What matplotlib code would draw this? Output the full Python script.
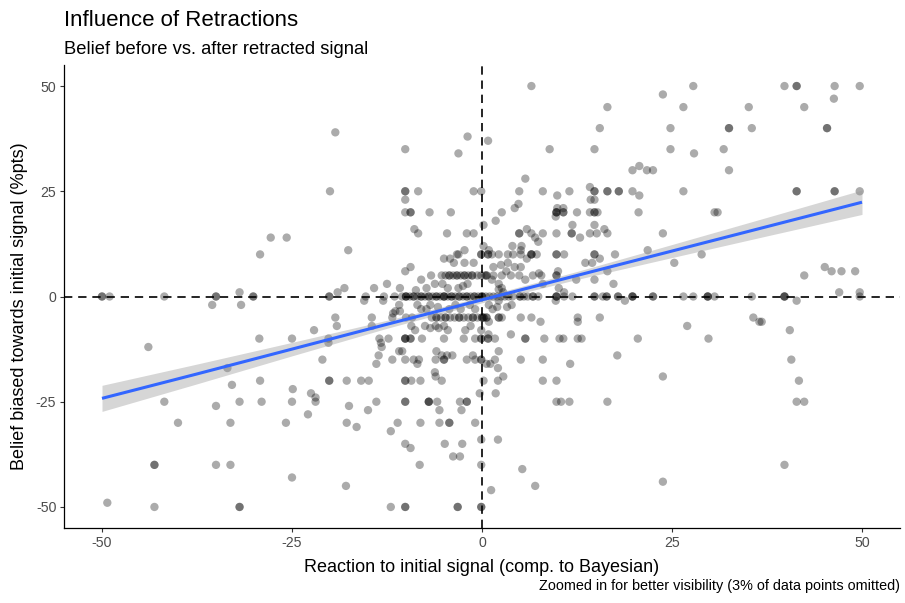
import numpy as np
import matplotlib
matplotlib.use("Agg")
import matplotlib.pyplot as plt

plt.rcParams["font.family"] = ["Liberation Sans", "DejaVu Sans"]
plt.rcParams["axes.unicode_minus"] = False

# reaction to initial signal (x) vs belief bias (y), one tuple per participant
left_pts = [
    (-50, 0), (-50, 0), (-49, 0), (-41.8, 0), (-35, 0), (-35, 0), (-30.1, 0), (-30.1, 0),
    (-20.1, 0), (-20.1, 0), (-19.3, 39), (-20, 25), (-27.8, 14), (-25.7, 14), (-29.2, 10),
    (-31.9, 1), (-19, 1), (-17.6, 11), (-18.1, 2), (-35.5, -2), (-31.7, -2), (-19.3, -5),
    (-19.1, -7), (-43.9, -12), (-29.3, -10), (-25, -10), (-22.1, -8), (-20.2, -10),
    (-20.2, -11), (-21, -15), (-33.5, -17), (-32.9, -21), (-29.2, -20), (-24.9, -22),
    (-20.1, -20), (-20.1, -20), (-41.8, -25), (-35, -26), (-31.9, -25), (-29, -25),
    (-25, -25), (-22.5, -23), (-21.9, -24), (-21.9, -25), (-22.9, -28), (-40, -30),
    (-33.1, -30), (-25.8, -30), (-43.1, -40), (-43.1, -40), (-35, -40), (-33.1, -40),
    (-25, -43), (-49.3, -49), (-43.1, -50), (-31.9, -50), (-31.9, -50), (-17.8, -20),
    (-15.9, -20), (-17.5, -26), (-17.8, -30), (-16.5, -31), (-17.9, -45), (-15.5, -1),
    (-15.3, 0),
]

core_left_pts = [
    # upper part
    (-10.1, 35), (-1.9, 38), (-3.1, 34), (0.8, 37), (-10.1, 25), (-10.1, 25), (-8.4, 25),
    (-1.1, 25), (-0.1, 25), (-10.1, 23), (-10.1, 20), (-9.4, 20), (-9.4, 20), (-6.9, 20),
    (-4.1, 20), (-8.9, 16), (-8.4, 15), (-4.6, 15), (-2, 15), (-1.1, 15), (0.2, 17),
    (-10.1, 6), (-9.4, 7), (-8, 4), (-6.7, 5), (-5, 9), (-4.2, 9), (-3.3, 10), (-3.1, 10),
    (-2.3, 11), (-3.7, 8), (-2.3, 8), (-1.1, 8), (-0.1, 10), (-0.1, 10), (-10.8, 2),
    (-14.2, 2), (-12.5, 3),
    # around +5
    (-5.3, 5), (-4.8, 5), (-4.3, 5), (-4.3, 5), (-3.8, 5), (-3.3, 5), (-3.3, 5), (-2.8, 5),
    (-2.3, 5), (-2.3, 5), (-1.8, 5), (-1.3, 5), (-1.3, 5), (-0.6, 5), (-0.1, 5), (0.4, 5),
    (-6.2, 3), (-5.2, 3), (-4.5, 2), (-3.1, 2), (-2.5, 2.5), (-1.9, 3), (-7.3, 2), (-8.7, 1.5),
    # zero row
    (-12.9, 0), (-11.5, 0), (-10.5, 0), (-10, 0), (-10, 0), (-10, 0), (-9.5, 0), (-9, 0),
    (-9, 0), (-8.5, 0), (-8, 0), (-8, 0), (-7.5, 0), (-7, 0), (-7, 0), (-6.5, 0), (-6, 0),
    (-6, 0), (-5.5, 0), (-5, 0), (-5, 0), (-5, 0), (-4.5, 0), (-4, 0), (-4, 0), (-3.5, 0),
    (-3, 0), (-3, 0), (-2.5, 0), (-2, 0), (-2, 0), (-1.5, 0), (-1, 0), (-1, 0), (-0.5, 0),
    (0, 0), (0, 0), (0, 0),
    # just below zero
    (-11.4, -3.5), (-10.9, -2), (-10.8, -3.5), (-11.7, -4), (-8.5, -2), (-8, -3), (-7.3, -3),
    (-6.8, -2), (-5.8, -2.5), (-4.3, -3), (-3.5, -2), (-2.8, -3), (-1.6, -2), (-0.9, -3),
    (-13, -1),
    # around -5
    (-14.5, -5), (-11.8, -5), (-10, -5), (-9.2, -5), (-6.6, -5), (-6, -5), (-6, -5), (-5.4, -5),
    (-4.8, -5), (-4.8, -5), (-4.2, -5), (-3.6, -5), (-3, -5), (-3, -5), (-2.4, -5), (-1.8, -5),
    (-1.2, -5), (-1.2, -5), (-0.6, -5), (0, -5), (0, -5), (0.6, -5),
    (-14.5, -7), (-7.5, -7), (-6.8, -7.5), (-6.1, -7), (-5.7, -7.5), (-5, -7), (-4.5, -8),
    (-2.2, -8), (-1.5, -7), (-0.1, -8), (-9.3, -7), (-8.8, -8),
    # around -10 to -16
    (-13.5, -10), (-12.3, -10), (-13.3, -11), (-13.2, -12), (-10.1, -10), (-10.1, -10),
    (-10.1, -10), (-9.4, -10), (-9.4, -10), (-7.9, -10), (-5, -10), (-2.4, -10), (-0.9, -10),
    (-0.1, -10), (-0.1, -10), (-10.9, -13), (-10.5, -13), (-6, -13), (-13.6, -14), (-13.9, -16),
    (-11.8, -15), (-10.1, -15), (-9, -15), (-8.5, -16), (-8.3, -15), (-6.1, -15), (-5, -15),
    (-5, -15), (-5.3, -14), (-4.6, -14), (-3.9, -14), (-2, -15), (-1.2, -14), (-0.9, -15),
    (-0.1, -15), (-0.1, -15), (0.6, -16),
    # lower part
    (-14.9, -20), (-10.1, -20), (-10.1, -20), (-9.3, -20), (-8.1, -20), (-6.1, -19),
    (-6.2, -18), (-5.3, -20), (-0.3, -23), (-13.9, -25), (-15, -27), (-10.1, -25), (-10.1, -25),
    (-7, -25), (-7, -25), (-7, -25), (-5.9, -25), (-5.6, -27), (-2.9, -25), (-2, -25), (-2, -25),
    (-2.7, -27), (-12, -32), (-11.1, -30), (-8.1, -30), (-5.6, -30), (-4.3, -30), (-4.3, -30),
    (-0.9, -30), (-10.1, -35), (-9.4, -36), (-4.9, -35), (-2.6, -35), (-3.8, -38), (-2.9, -38),
    (-0.1, -34), (-8.2, -40), (-0.1, -40), (-12, -50), (-10.1, -50), (-10.1, -50), (-3.2, -50),
    (-3.2, -50), (-0.1, -50), (-0.1, -50),
]

core_right_pts = [
    # upper part
    (6.5, 50), (16.5, 45), (15.5, 40), (8.9, 35), (14.8, 35), (5.7, 28), (4.9, 25), (8, 25),
    (9.9, 24), (11.5, 25), (14.2, 26), (14.8, 25), (14.8, 25), (16.5, 25), (16.5, 25), (18, 25),
    (18, 25), (19.8, 25), (14.3, 23), (14.8, 23), (9.8, 20), (9.8, 20), (9.8, 20), (10.7, 20),
    (10.7, 20), (9.7, 19), (9.9, 21), (10.7, 21), (12.5, 20), (14.2, 20), (14.8, 20),
    (14.8, 20), (15.2, 20), (4.8, 22), (4.3, 21), (2.6, 20), (1.8, 18),
    # around +15
    (4.9, 15), (4.9, 15), (5.9, 16), (6.5, 15), (7, 14), (7.4, 13), (8, 15), (9.8, 15),
    (11.8, 15), (11.8, 15), (11.9, 17), (12.9, 14), (14.2, 15), (15.1, 15), (14.8, 17),
    (16.1, 16), (16.5, 15), (4, 12), (5.2, 12), (5.1, 11), (0.2, 12), (0.9, 11),
    # around +10
    (0.8, 10), (0.8, 10), (1.3, 10), (2.2, 10), (3.4, 10), (4.1, 10), (5.1, 10), (5.9, 9),
    (6.5, 10), (6.5, 10), (6.5, 10), (7.2, 10), (9.8, 10), (9.8, 10), (10.8, 10), (14.8, 10),
    (14.8, 10), (17.5, 10), (13.6, 8), (14.5, 8), (15.5, 9), (16.5, 6), (17.3, 3),
    # around +5
    (0.6, 5), (0.6, 5), (1.5, 5), (2.6, 5), (3.8, 5), (4.9, 5), (5.7, 4), (6.7, 5), (7.8, 5),
    (9.8, 5), (9.8, 5), (10, 6), (12.4, 4), (14.8, 4), (1.5, 7), (3.4, 8), (4.3, 7), (5.1, 7),
    (1.3, 4), (2.2, 3), (2.6, 2), (8, 3), (10.1, 2), (10.8, 1), (2.2, 1.7), (2.8, 1), (3.2, 6),
    (2.5, 7.5), (7.5, 5.5),
    # zero row
    (0.5, 0), (1, 0), (1.5, 0), (2, 0), (2.5, 0), (3, 0), (3.5, 0), (4, 0), (5, 0), (5, 0),
    (5.5, 0), (6, 0), (6.7, 0), (6.7, 0), (7.4, 0), (9.8, 0), (9.8, 0), (9.8, 0), (10.8, 0),
    (11.9, 0), (14.8, 0), (14.8, 0), (15.9, 0), (16.4, 0), (16.4, 0), (17.9, 0), (17.9, 0),
    (19.8, 0), (19.8, 0), (19.8, 0),
    (9.7, -1), (3.9, -2), (2.2, -1), (18.8, -1), (0.9, -2), (1.4, -3), (2, -2.5), (3.3, -2.5),
    # around -5 and -10
    (0.2, -5), (0.2, -5), (0.6, -5), (2.2, -5), (2.2, -5), (2.6, -5), (5.1, -5), (6.5, -5),
    (7.7, -6), (12.6, -5), (12.6, -6), (15.5, -5), (0.9, -6), (0.85, -9),
    (0.8, -10), (0.8, -10), (1.7, -10), (3.8, -9), (5.7, -10), (5.7, -10), (8.2, -10),
    (10.2, -10), (10.7, -10), (12.6, -10), (13.1, -10), (20.5, -10),
    # lower part
    (2.2, -13), (1.1, -16), (1.7, -15), (2.1, -17), (5.1, -15), (8, -15), (11.6, -16),
    (17.8, -14), (0.2, -20), (2.1, -20), (2.8, -19), (8, -20), (9.8, -20), (1.8, -23),
    (9.8, -25), (10.4, -25), (11.5, -25), (16.5, -25), (2.1, -34), (5.3, -41), (1.2, -46),
    (7, -45),
]

right_pts = [
    (23.8, 48), (27.8, 50), (26.5, 45), (24.8, 40), (24.8, 35), (27.9, 34), (32.5, 40),
    (32.5, 40), (35.5, 40), (35.1, 45), (31.8, 35), (32.5, 30), (39.8, 50), (41.4, 50),
    (41.4, 50), (42.4, 45), (46.4, 50), (46.3, 47), (49.7, 50), (45.4, 40), (45.4, 40),
    (20.7, 31), (21.7, 30), (22.5, 30), (19.8, 30), (20.7, 24), (26.5, 25), (41.4, 25),
    (41.4, 25), (46.4, 25), (46.4, 25), (49.7, 25), (20.6, 20), (30.6, 20), (31, 20),
    (23.8, 15), (21.8, 11), (25.3, 8), (28.9, 10), (42.4, 5), (45.1, 7), (46, 6), (47.3, 6),
    (49.1, 6), (47, 1), (49.7, 1), (22.5, 0), (22.5, 0), (26.5, 0), (27.8, 0), (29.7, 0),
    (29.7, 0), (29.7, 0), (30.6, 0), (35.5, 0), (39.8, 0), (39.8, 0), (39.8, 0), (49.7, 0),
    (41.4, -1), (27, -7), (29.8, -10), (35.7, -5), (36.5, -6), (36.8, -6), (40.5, -8),
    (40.7, -15), (41.7, -20), (41.4, -25), (42.4, -25), (23.8, -19), (23.8, -44), (39.8, -40),
]

# linear fit and its 95% band
fit_x = [-50, -37.5, -25, -12.5, 0, 12.5, 25, 37.5, 50]
fit_y = [-24.2, -18.4, -12.5, -6.6, -0.8, 5.0, 10.8, 16.6, 22.4]
fit_half = [3.1, 2.35, 1.6, 0.95, 0.7, 0.95, 1.55, 2.2, 2.9]

ticks = [-50, -25, 0, 25, 50]

pts = np.array(left_pts + core_left_pts + core_right_pts + right_pts)
fx = np.array(fit_x)
fy = np.array(fit_y)
fh = np.array(fit_half)

W, H = 905, 603
fig = plt.figure(figsize=(W / 100, H / 100), dpi=100)
ax = fig.add_axes([64 / W, 1 - 528 / H, (900 - 64) / W, (528 - 65) / H])

ax.scatter(pts[:, 0], pts[:, 1], s=36, color="black", alpha=0.33,
           edgecolors="none", zorder=2)
ax.axhline(0, color="black", lw=1.2, ls=(0, (5, 3.5)), zorder=3)
ax.axvline(0, color="black", lw=1.2, ls=(0, (5, 3.5)), zorder=3)
ax.fill_between(fx, fy - fh, fy + fh, color="#999999", alpha=0.4,
                lw=0, zorder=4)
ax.plot(fx, fy, color="#3366FF", lw=2.2, zorder=5, solid_capstyle="butt")

ax.set_xlim(-55, 55)
ax.set_ylim(-55, 55)
ax.set_xticks(ticks)
ax.set_yticks(ticks)
ax.set_xticklabels([str(t) for t in ticks])
ax.set_yticklabels([str(t) for t in ticks])
ax.tick_params(length=3.0, width=0.8, color="#333333", labelsize=10.2,
               labelcolor="#4D4D4D", pad=2.5)
for side in ("top", "right"):
    ax.spines[side].set_visible(False)
for side in ("left", "bottom"):
    ax.spines[side].set_linewidth(0.9)

# titles and annotations
fig.text(64 / W, 1 - 26 / H, "Influence of Retractions", fontsize=16,
         ha="left", va="baseline")
fig.text(64 / W, 1 - 54 / H, "Belief before vs. after retracted signal",
         fontsize=13.2, ha="left", va="baseline")
fig.text((64 + 900) / 2 / W, 1 - 572 / H,
         "Reaction to initial signal (comp. to Bayesian)", fontsize=13,
         ha="center", va="baseline")
fig.text(20 / W, 1 - 306 / H, "Belief biased towards initial signal (%pts)",
         fontsize=13, rotation=90, ha="center", va="center")
fig.text(900 / W, 1 - 590 / H,
         "Zoomed in for better visibility (3% of data points omitted)",
         fontsize=10.4, ha="right", va="baseline")

fig.savefig("out.png", dpi=100)
